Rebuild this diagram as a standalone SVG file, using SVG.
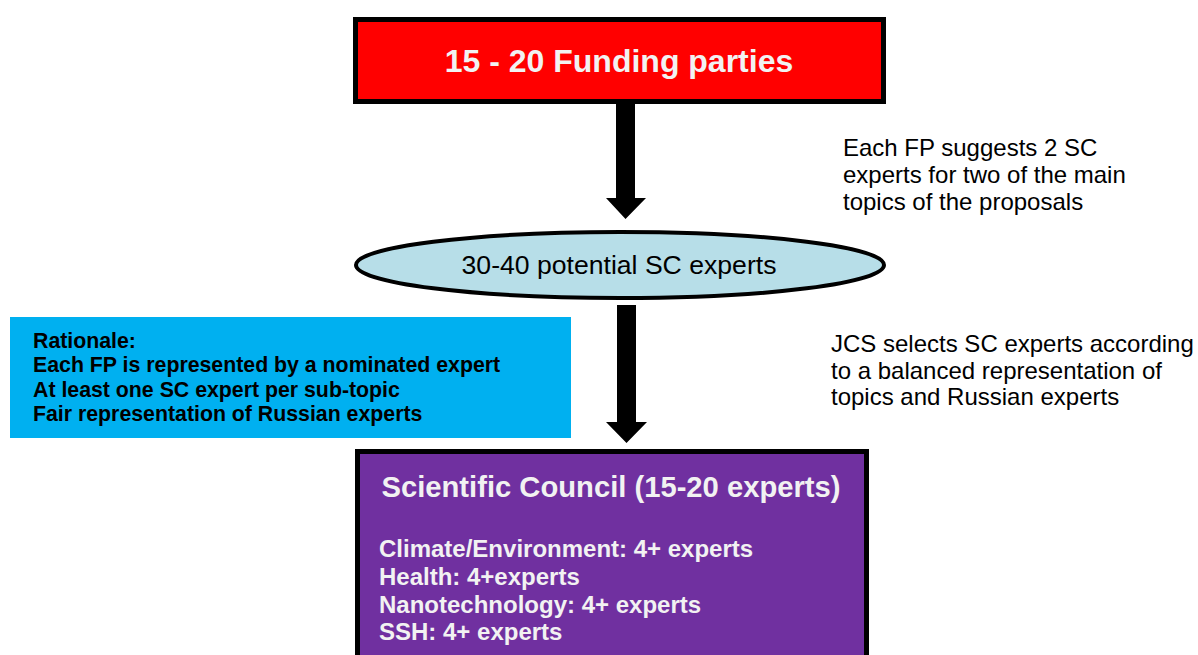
<svg xmlns="http://www.w3.org/2000/svg" width="1198" height="655" viewBox="0 0 1198 655">
<style>
.t{font-family:"Liberation Sans",Arial,sans-serif}
.b{font-weight:bold}
.w{fill:#f2f2f2}
.k{fill:#000}
.arrow{fill:#000}
</style>
<rect width="1198" height="655" fill="#fff"/>
<g id="connectors">
<polygon class="arrow" points="616,103 635,103 635,198 646,198 625.5,219 606,198 616,198"/>
<polygon class="arrow" points="617,305 636,305 636,422 647,422 626.5,443 606,422 617,422"/>
</g>
<g id="funding">
<rect x="355.5" y="19.5" width="528" height="82" fill="#ff0000" stroke="#000" stroke-width="5"/>
<text class="t b w" x="619" y="72" font-size="32" text-anchor="middle">15 - 20 Funding parties</text>
</g>
<g id="potential">
<ellipse cx="620" cy="265" rx="264" ry="33" fill="#b7dee8" stroke="#000" stroke-width="4"/>
<text class="t k" x="619" y="274" font-size="26.6" text-anchor="middle">30-40 potential SC experts</text>
</g>
<g id="note1">
<text class="t k" font-size="24"><tspan x="843" y="156">Each FP suggests 2 SC</tspan><tspan x="843" y="183">experts for two of the main</tspan><tspan x="843" y="210">topics of the proposals</tspan></text>
</g>
<g id="note2">
<text class="t k" font-size="24"><tspan x="831" y="352">JCS selects SC experts according</tspan><tspan x="831" y="379">to a balanced representation of</tspan><tspan x="831" y="405">topics and Russian experts</tspan></text>
</g>
<g id="rationale">
<rect x="10" y="317" width="561" height="121" fill="#00b0f0"/>
<text class="t b k" font-size="21.3"><tspan x="33" y="348">Rationale:</tspan><tspan x="33" y="372">Each FP is represented by a nominated expert</tspan><tspan x="33" y="397">At least one SC expert per sub-topic</tspan><tspan x="33" y="421">Fair representation of Russian experts</tspan></text>
</g>
<g id="council">
<rect x="357.5" y="451.5" width="509" height="215" fill="#7030a0" stroke="#000" stroke-width="5"/>
<text class="t b w" x="611" y="497" font-size="29.2" text-anchor="middle">Scientific Council (15-20 experts)</text>
<text class="t b w" font-size="24"><tspan x="379" y="557">Climate/Environment: 4+ experts</tspan><tspan x="379" y="585">Health: 4+experts</tspan><tspan x="379" y="613">Nanotechnology: 4+ experts</tspan><tspan x="379" y="640">SSH: 4+ experts</tspan></text>
</g>
</svg>
